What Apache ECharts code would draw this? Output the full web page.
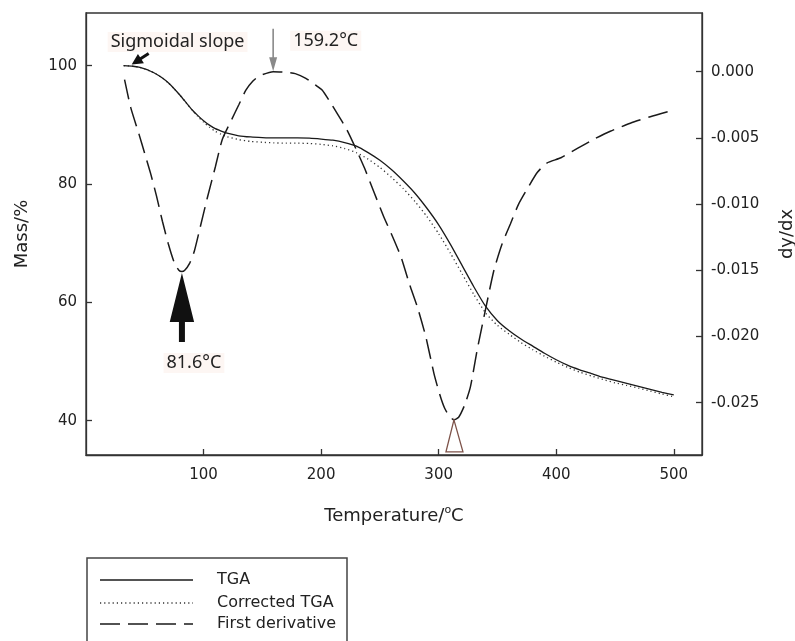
<!DOCTYPE html>
<html>
<head>
<meta charset="utf-8">
<script src="https://cdn.jsdelivr.net/npm/echarts@6/dist/echarts.min.js"></script>
<style>
html,body{margin:0;padding:0;background:#fff;}
#chart{width:795px;height:641px;}
</style>
</head>
<body>
<div id="chart"></div>
<script>
// ---- data ----
const tempT = [32,40,45,50,55,60,65,70,75,80,85,90,95,100,105,110,115,120,130,140,150,160,170,180,190,200,210,220,230,240,250,260,270,280,290,300,310,320,330,340,350,360,370,380,390,400,410,420,430,440,450,460,470,480,490,500];
const tgaMass = [100.0,99.9,99.75,99.45,99.05,98.55,97.9,97.1,96.1,95.0,93.8,92.6,91.6,90.7,89.95,89.35,88.95,88.6,88.15,87.95,87.85,87.8,87.8,87.8,87.75,87.6,87.4,87.0,86.4,85.3,84.0,82.4,80.5,78.4,75.9,73.1,69.8,66.2,62.6,59.3,56.9,55.2,53.8,52.6,51.4,50.3,49.35,48.6,47.95,47.3,46.8,46.3,45.8,45.3,44.8,44.35];
const correctedMass = [100.0,99.9,99.75,99.45,99.05,98.55,97.9,97.1,96.1,95.0,93.8,92.55,91.45,90.45,89.6,88.9,88.4,88.0,87.5,87.2,87.05,86.95,86.9,86.9,86.85,86.7,86.45,86.0,85.3,84.2,82.8,81.1,79.2,77.0,74.5,71.6,68.3,64.8,61.3,58.2,56.1,54.6,53.2,52.0,50.9,49.9,49.0,48.2,47.55,46.95,46.4,45.95,45.5,45.0,44.5,44.05];
const derivT = [32.8,38,45,50,55,60,65,70,75,79,81.6,84,88,92,97,103,110,116,124,130,136,142,148,159.2,170,178,187,195,201,207,214,222,230,237,245,253,261,268,275,282,289,296,301,305,309,313,317,322,327,333,340,347,354,361,368,377,384,392,404,418,432,446,463,480,500];
const derivV = [-0.0006,-0.0027,-0.0047,-0.0062,-0.0077,-0.0094,-0.0113,-0.0130,-0.0144,-0.0150,-0.0151,-0.0150,-0.0145,-0.0136,-0.0118,-0.0096,-0.0072,-0.0051,-0.0036,-0.0025,-0.0014,-0.0007,-0.0003,0.0000,-0.00005,-0.00015,-0.0005,-0.0010,-0.0014,-0.0022,-0.0032,-0.0044,-0.0059,-0.0073,-0.0091,-0.0109,-0.0125,-0.0140,-0.0160,-0.0178,-0.0200,-0.0228,-0.0244,-0.0254,-0.0260,-0.0263,-0.0261,-0.0252,-0.0238,-0.0209,-0.0179,-0.0150,-0.0130,-0.0115,-0.0100,-0.0086,-0.0076,-0.0069,-0.0065,-0.0058,-0.0051,-0.0045,-0.0039,-0.0034,-0.0029];

const xTicks = [100,200,300,400,500];
const massTicks = [40,60,80,100];
const derivTicks = [0,-0.005,-0.010,-0.015,-0.020,-0.025];

const seriesNames = ['TGA','Corrected TGA','First derivative'];

// annotation anchors (data coordinates)
const sigmoidPoint = [38, 100.1];
const peak1 = [81.6, -0.0151];
const peak2 = [159.2, 0.0];
const peak3 = [313, -0.0263];
const peak1Label = '81.6°C';
const peak2Label = '159.2°C';
const sigmoidLabel = 'Sigmoidal slope';

// ---- build ----
const zip = (a, b) => a.map((v, i) => [v, b[i]]);
const FONT = 'DejaVu Sans';
const AFONT = 'Noto Sans';
const axisCol = '#333';
const txtCol = '#222';

const tgaStyle = {color: '#1a1a1a', width: 1.3};
const corrStyle = {color: '#333', width: 1.3, type: [1.2, 3]};
const derivStyle = {color: '#1a1a1a', width: 1.5, type: [20, 8]};

const chart = echarts.init(document.getElementById('chart'), null, {renderer: 'canvas'});

const option = {
  animation: false,
  backgroundColor: '#fff',
  grid: {left: 86, right: 93, top: 13, bottom: 186, show: true, borderColor: axisCol, borderWidth: 1.3,
         backgroundColor: 'transparent', containLabel: false, outerBoundsMode: 'none'},
  xAxis: {
    type: 'value', min: 0, max: 524,
    name: 'Temperature/{sup|o}C', nameLocation: 'middle', nameGap: 50,
    nameTextStyle: {fontFamily: FONT, fontSize: 18, color: txtCol, rich: {sup: {fontFamily: FONT, fontSize: 11, color: txtCol, verticalAlign: 'top', lineHeight: 22}}},
    axisLine: {show: true, onZero: false, lineStyle: {color: axisCol, width: 1.3}},
    axisTick: {show: true, inside: true, length: 6, customValues: xTicks, lineStyle: {color: axisCol, width: 1.3}},
    axisLabel: {customValues: xTicks, margin: 13, fontFamily: FONT, fontSize: 15, color: txtCol},
    splitLine: {show: false}
  },
  yAxis: [
    {
      type: 'value', position: 'left', min: 34.2, max: 108.9,
      name: 'Mass/%', nameLocation: 'middle', nameGap: 55,
      nameTextStyle: {fontFamily: FONT, fontSize: 18, color: txtCol},
      axisLine: {show: true, onZero: false, lineStyle: {color: axisCol, width: 1.3}},
      axisTick: {show: true, inside: true, length: 6, customValues: massTicks, lineStyle: {color: axisCol, width: 1.3}},
      axisLabel: {customValues: massTicks, margin: 9, fontFamily: FONT, fontSize: 15, color: txtCol},
      splitLine: {show: false}
    },
    {
      type: 'value', position: 'right', min: -0.02895, max: 0.00443,
      name: 'dy/dx', nameLocation: 'middle', nameGap: 76,
      nameTextStyle: {fontFamily: FONT, fontSize: 18, color: txtCol},
      axisLine: {show: true, onZero: false, lineStyle: {color: axisCol, width: 1.3}},
      axisTick: {show: true, inside: true, length: 6, customValues: derivTicks, lineStyle: {color: axisCol, width: 1.3}},
      axisLabel: {customValues: derivTicks, margin: 9, fontFamily: FONT, fontSize: 15, color: txtCol,
        formatter: v => (Math.abs(v) < 1e-9 ? 0 : v).toFixed(3)},
      splitLine: {show: false}
    }
  ],
  series: [
    {
      name: seriesNames[0], type: 'line', yAxisIndex: 0, data: zip(tempT, tgaMass),
      symbol: 'none', smooth: 0.2, lineStyle: tgaStyle,
      emphasis: {disabled: true}, z: 3
    },
    {
      name: seriesNames[1], type: 'line', yAxisIndex: 0, data: zip(tempT, correctedMass),
      symbol: 'none', smooth: 0.2, lineStyle: corrStyle,
      emphasis: {disabled: true}, z: 2
    },
    {
      name: seriesNames[2], type: 'line', yAxisIndex: 1, data: zip(derivT, derivV),
      symbol: 'none', smooth: 0.2, lineStyle: derivStyle,
      emphasis: {disabled: true}, z: 2
    }
  ]
};
chart.setOption(option);

// ---- annotations anchored to data via the chart's own scales ----
function arrowPoly(tip, tail, headLen, headHalf, shaftW) {
  const dx = tail[0] - tip[0], dy = tail[1] - tip[1];
  const L = Math.hypot(dx, dy); const ux = dx / L, uy = dy / L; const nx = -uy, ny = ux;
  const hb = [tip[0] + ux * headLen, tip[1] + uy * headLen];
  const s = shaftW / 2;
  return [
    tip,
    [hb[0] + nx * headHalf, hb[1] + ny * headHalf],
    [hb[0] + nx * s, hb[1] + ny * s],
    [tail[0] + nx * s, tail[1] + ny * s],
    [tail[0] - nx * s, tail[1] - ny * s],
    [hb[0] - nx * s, hb[1] - ny * s],
    [hb[0] - nx * headHalf, hb[1] - ny * headHalf]
  ];
}
const massPx = p => chart.convertToPixel({xAxisIndex: 0, yAxisIndex: 0}, p);
const derivPx = p => chart.convertToPixel({xAxisIndex: 0, yAxisIndex: 1}, p);

const s0 = massPx(sigmoidPoint);
const a1 = derivPx(peak1); a1[1] += 1.5;
const a2 = derivPx(peak2);
const a3 = derivPx(peak3);
const labelBg = 'rgba(248,222,212,0.28)';
const txt = (x, y, s, align, font, size) => ({
  type: 'text', x: x, y: y, z: 100,
  style: {text: s, fontFamily: font || AFONT, fontSize: size || 18, fill: txtCol, align: align || 'left', verticalAlign: 'middle',
          backgroundColor: font ? 'transparent' : labelBg, padding: font ? 0 : [1, 3]}
});

// legend box (drawn as graphics below the plot)
const lgX = 87, lgY = 558, lgW = 260, rowY = [580, 603, 624];
const lgStyles = [tgaStyle, corrStyle, derivStyle];
const legendEls = [
  {type: 'rect', z: 50, shape: {x: lgX, y: lgY, width: lgW, height: 120}, style: {fill: '#fff', stroke: '#444', lineWidth: 1.5}}
];
seriesNames.forEach((n, i) => {
  const ls = lgStyles[i];
  legendEls.push({type: 'line', z: 51, shape: {x1: lgX + 13, y1: rowY[i], x2: lgX + 106, y2: rowY[i]},
    style: {stroke: ls.color, lineWidth: ls.width, lineDash: ls.type || null}});
  legendEls.push(txt(lgX + 130, rowY[i], n, 'left', FONT, 16));
});

chart.setOption({
  graphic: [
    {type: 'polygon', z: 100, shape: {points: arrowPoly([s0[0] + 1, s0[1] - 0.5], [s0[0] + 18, s0[1] - 11.5], 11, 5.5, 3)}, style: {fill: '#111'}},
    txt(s0[0] - 23, s0[1] - 23, sigmoidLabel),
    {type: 'polygon', z: 100, shape: {points: arrowPoly(a1, [a1[0], a1[1] + 69], 49, 12.2, 6)}, style: {fill: '#111'}},
    txt(a1[0] + 12, a1[1] + 90, peak1Label, 'center'),
    {type: 'polygon', z: 100, shape: {points: arrowPoly([a2[0], a2[1] - 0.5], [a2[0], a2[1] - 43], 14, 4, 1.6)}, style: {fill: '#8a8a8a'}},
    txt(a2[0] + 17, a2[1] - 31, peak2Label),
    {type: 'polygon', z: 100, shape: {points: [[a3[0], a3[1]], [a3[0] - 8, a3[1] + 32], [a3[0] + 9, a3[1] + 32]]},
     style: {fill: 'none', stroke: '#7d5249', lineWidth: 1.3}}
  ].concat(legendEls)
});
</script>
</body>
</html>
